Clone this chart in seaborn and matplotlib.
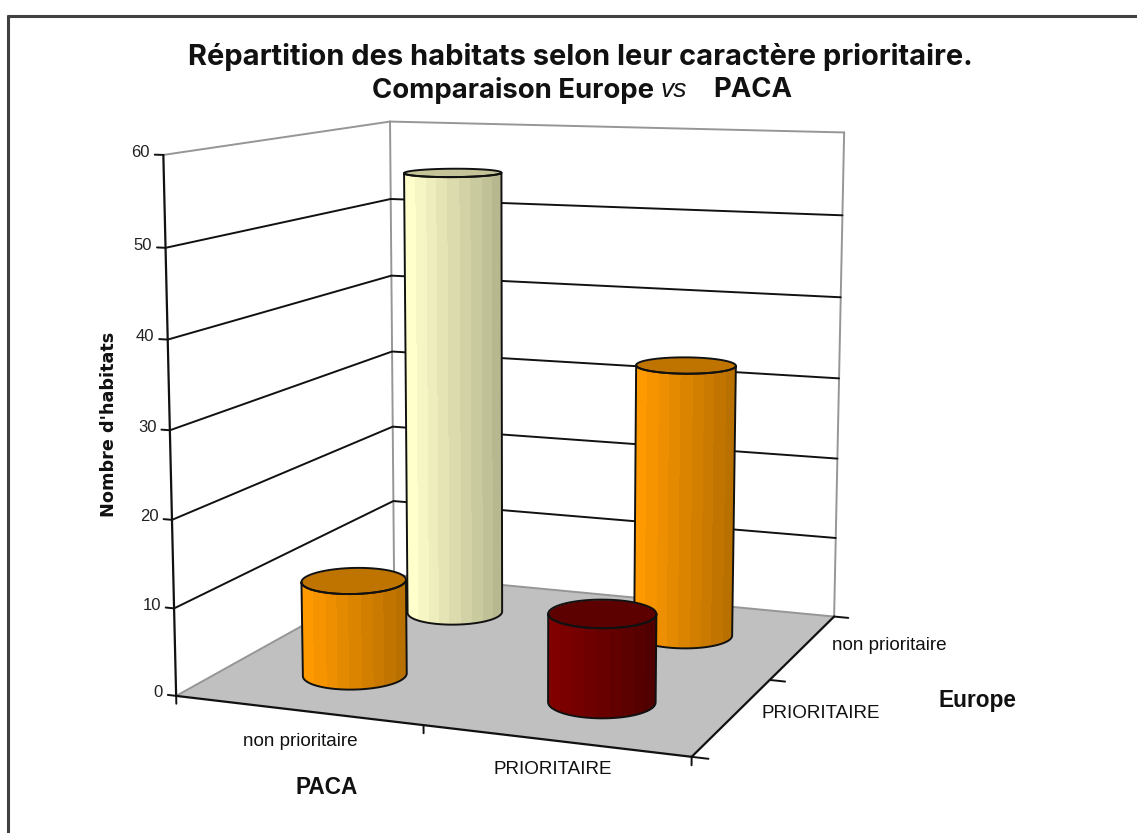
import numpy as np
import pandas as pd
import seaborn as sns
import matplotlib
matplotlib.use("Agg")
import matplotlib.pyplot as plt
from mpl_toolkits.mplot3d.art3d import Poly3DCollection

# ---- data -------------------------------------------------------------
paca_labels = ["non prioritaire", "PRIORITAIRE"]
europe_labels = ["PRIORITAIRE", "non prioritaire"]
z_ticks = [0, 10, 20, 30, 40, 50, 60]
paca_col = ["non prioritaire", "PRIORITAIRE", "non prioritaire", "PRIORITAIRE"]
europe_col = ["non prioritaire", "non prioritaire", "PRIORITAIRE", "PRIORITAIRE"]
values = [55, 33, 11, 10]
light_cols = ["#FFFFCC", "#FF9900", "#FF9900", "#800000"]
dark_cols = ["#B8B890", "#B87000", "#B87000", "#500000"]
top_cols = ["#C4C498", "#C07400", "#C07400", "#5C0000"]

df = pd.DataFrame({"paca": paca_col, "europe": europe_col, "value": values,
                   "light": light_cols, "dark": dark_cols, "top": top_cols})

sns.set_theme(style="white")
plt.rcParams["font.family"] = ["Liberation Sans", "DejaVu Sans"]

W, H = 1137, 833
fig = plt.figure(figsize=(W / 100, H / 100), dpi=100, facecolor="white")
# the 3D axes is forced square: give it a full-width square centred on the figure
ax = fig.add_axes([0, -(W - H) / 2 / H, 1, W / H], projection="3d",
                  computed_zorder=False, proj_type="ortho")
ax.set_axis_off()
ax.set_xlim(0, 2)
ax.set_ylim(0, 2)
ax.set_zlim(0, 60)

# ---- camera of the reference: frame corners (world -> picture pixels) ---
frame = [
    (0, 0, 0, 175.7, 695), (0, 0, 60, 163.3, 156), (0, 0, 50, 165.7, 247.7),
    (0, 0, 10, 173.3, 606.7), (0, 2, 0, 395, 576), (0, 2, 60, 390, 122),
    (0, 2, 50, 390.5, 198), (2, 2, 60, 845, 131.7), (2, 2, 50, 841.7, 216),
    (2, 2, 0, 834, 615), (2, 0, 0, 693.3, 756), (1, 0, 0, 424, 726.7),
    (2, 1, 0, 768, 681.7),
]
rows = []
for x, y, z, px, py in frame:
    w = np.array([x / 2, y / 2, z / 60, 1.0])
    u, v = px / 1000, py / 1000
    rows.append(np.r_[w, 0 * w, -u * w])
    rows.append(np.r_[0 * w, w, -v * w])
Pn = np.linalg.svd(np.array(rows))[2][-1].reshape(3, 4)
P = np.diag([1000.0, 1000.0, 1.0]) @ Pn @ np.diag([0.5, 0.5, 1 / 60, 1.0])
if P[2, 3] < 0:
    P = -P
centre = np.linalg.svd(P)[2][-1]
vl = ax.viewLim
top_px = (W + H) / 2
corners = np.array([[x, y, z, 1.0] for x in (0, 2) for y in (0, 2) for z in (0, 60)])
depth = centre / (2 * np.abs((corners @ centre) / (corners @ P[2])).max())
M = np.array([
    vl.x0 * P[2] + (vl.x1 - vl.x0) / W * P[0],
    (vl.y0 + (vl.y1 - vl.y0) * top_px / W) * P[2] - (vl.y1 - vl.y0) / W * P[1],
    depth,
    P[2],
])
ax.get_proj = lambda: M


def to_px(x, y, z):
    h = P @ np.array([x, y, z, np.ones_like(x)])
    return h[0] / h[2], h[1] / h[2]


# ---- walls and floor -----------------------------------------------------
WALL = "#969696"
ax.add_collection3d(Poly3DCollection([[(0, 0, 0), (0, 2, 0), (0, 2, 60), (0, 0, 60)],
                                      [(0, 2, 0), (2, 2, 0), (2, 2, 60), (0, 2, 60)]],
                                     facecolors="white", edgecolors="none", zorder=1))
ax.add_collection3d(Poly3DCollection([[(0, 0, 0), (2, 0, 0), (2, 2, 0), (0, 2, 0)]],
                                     facecolors="#C0C0C0", edgecolors="none", zorder=2))
for xs, ys, zs in [([0, 0], [0, 2], [60, 60]), ([0, 2], [2, 2], [60, 60]),
                   ([0, 0], [2, 2], [0, 60]), ([2, 2], [2, 2], [0, 60]),
                   ([0, 0], [0, 2], [0, 0]), ([0, 2], [2, 2], [0, 0])]:
    ax.plot(xs, ys, zs, color=WALL, lw=1.4, zorder=3)
for t in z_ticks[1:-1]:
    ax.plot([0, 0, 2], [0, 2, 2], [t, t, t], color="#111111", lw=1.4, zorder=3)

# ---- axes, ticks, tick labels ---------------------------------------------
AX = "#111111"
ax.plot([0, 0], [0, 0], [0, 60], color=AX, lw=1.6, zorder=4)
ax.plot([0, 2], [0, 0], [0, 0], color=AX, lw=1.6, zorder=4)
ax.plot([2, 2], [0, 2], [0, 0], color=AX, lw=1.6, zorder=4)
for t in z_ticks:
    ax.plot([-0.035, 0], [0, 0], [t, t], color=AX, lw=1.4, zorder=4)
    ax.text(-0.055, 0, t + 0.2, str(t), ha="right", va="center", fontsize=12, color="#222222", zorder=4)
for t in range(3):
    ax.plot([t, t], [0, 0], [-0.9, 0], color=AX, lw=1.4, zorder=4)
    ax.plot([2, 2.06], [t, t], [0, 0], color=AX, lw=1.4, zorder=4)

# ---- cylinders ---------------------------------------------------------------
rx, ry = 0.197, 0.205
thetas = np.linspace(0, 2 * np.pi, 361)
for order, row in enumerate(df.itertuples()):
    cx = paca_labels.index(row.paca) + 0.5
    cy = europe_labels.index(row.europe) + 0.5
    zo = 10 + order
    cxs, cys = cx + rx * np.cos(thetas), cy + ry * np.sin(thetas)
    zero = np.zeros_like(thetas)
    bx, by = to_px(cxs, cys, zero + row.value / 2)
    i_l, i_r = int(np.argmin(bx[:-1])), int(np.argmax(bx[:-1]))
    t_l, t_r = thetas[i_l], thetas[i_r]
    # go from left silhouette to right silhouette through the viewer side
    if t_r < t_l:
        t_r += 2 * np.pi
    mid = (t_l + t_r) / 2
    _, y_mid = to_px(cx + rx * np.cos(mid), cy + ry * np.sin(mid), row.value / 2)
    if y_mid < by[:-1].mean():
        t_r -= 2 * np.pi
    arc = np.linspace(t_l, t_r, 97)
    ax_, ay_ = cx + rx * np.cos(arc), cy + ry * np.sin(arc)
    X = np.vstack([ax_, ax_])
    Y = np.vstack([ay_, ay_])
    Z = np.vstack([np.zeros_like(arc), np.full_like(arc, row.value)])
    palette = sns.blend_palette([row.light, row.dark], 9)
    sx, _ = to_px(ax_[:-1], ay_[:-1], np.full(96, row.value / 2))
    frac = (sx - sx.min()) / (sx.max() - sx.min())
    # stepped bands as in the original: light left part, darker on the right
    band = np.minimum((frac * 9).astype(int), 8)
    fc = np.array([[tuple(palette[b])[:3] + (1,) for b in band]])
    ax.plot_surface(X, Y, Z, rcount=2, ccount=97, facecolors=fc, shade=False,
                    linewidth=0, antialiased=False, zorder=zo)
    ax.add_collection3d(Poly3DCollection(
        [list(zip(cxs, cys, zero + row.value))], facecolors=row.top,
        edgecolors=(0, 0, 0, 0), zorder=zo + 0.1))
    # outline of the whole cylinder: silhouette, base arc, top ellipse
    body = list(zip(ax_, ay_, np.zeros_like(arc))) + list(zip(ax_[::-1], ay_[::-1], np.full_like(arc, row.value)))
    ax.add_collection3d(Poly3DCollection(
        [body, list(zip(cxs, cys, zero + row.value))], facecolors=(0, 0, 0, 0),
        edgecolors="#111111", linewidths=1.4, zorder=zo + 0.2))


# ---- texts (pixel positions) ----------------------------------------------------
def txt(px, py, s, **kw):
    kw.setdefault("ha", "center")
    kw.setdefault("va", "center")
    kw.setdefault("color", "#111111")
    fig.text(px / W, 1 - py / H, s, **kw)


TITLE_FONT = ["Inter", "Liberation Sans"]
txt(580, 57, "Répartition des habitats selon leur caractère prioritaire.", fontsize=20.9, fontweight="bold", family=TITLE_FONT)
txt(513, 90, "Comparaison Europe", fontsize=19.8, fontweight="bold", family=TITLE_FONT)
txt(674, 90, "vs", fontsize=19, style="italic")
txt(753, 90, "PACA", fontsize=19.8, fontweight="bold", family=TITLE_FONT)
txt(109, 424, "Nombre d'habitats", rotation=90, fontsize=12.7, fontweight="bold", family=["DejaVu Sans"])
txt(300, 741, paca_labels[0], fontsize=13.6)
txt(553, 770, paca_labels[1], fontsize=13.6)
txt(889, 645, europe_labels[1], fontsize=13.6)
txt(821, 713, europe_labels[0], fontsize=13.6)
txt(327, 787, "PACA", fontsize=16.3, fontweight="bold")
txt(977, 700, "Europe", fontsize=16.3, fontweight="bold")

# ---- outer frame: only top and left edges are visible -----------------------------
fig.add_artist(plt.Line2D([7.5 / W, 7.5 / W], [0, 1 - 15.5 / H], color="#404040", lw=2.2))
fig.add_artist(plt.Line2D([7.5 / W, 1], [1 - 15.5 / H, 1 - 15.5 / H], color="#404040", lw=2.2))

fig.savefig("out.png", dpi=100)
